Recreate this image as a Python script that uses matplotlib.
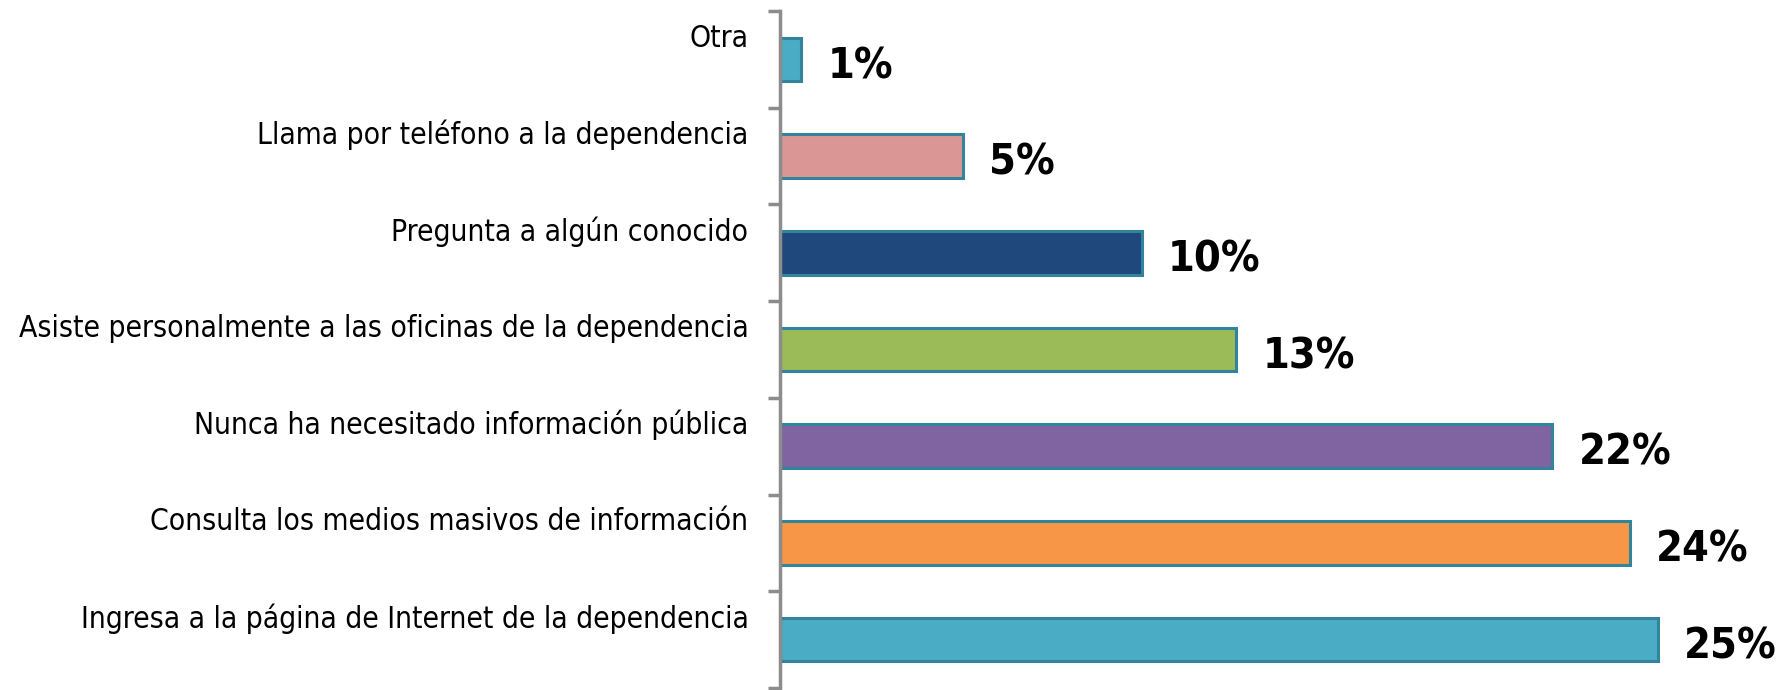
import matplotlib.pyplot as plt
import numpy as np

# categories from top to bottom, as in the chart
categorias = [
    "Otra",
    "Llama por teléfono a la dependencia",
    "Pregunta a algún conocido",
    "Asiste personalmente a las oficinas de la dependencia",
    "Nunca ha necesitado información pública",
    "Consulta los medios masivos de información",
    "Ingresa a la página de Internet de la dependencia",
]
valores = [0.6, 5.2, 10.3, 13.0, 22.0, 24.2, 25.0]
etiquetas = ["1%", "5%", "10%", "13%", "22%", "24%", "25%"]
colores = ["#4BACC6", "#D99694", "#1F497D", "#9BBB59", "#8064A2", "#F79646", "#4BACC6"]

fig = plt.figure(figsize=(17.91, 6.9), dpi=100)
ax = fig.add_axes([780 / 1791, 2 / 690, 1 - 780 / 1791, 677 / 690])

y = np.arange(len(categorias))
ax.barh(y, valores, height=0.45, color=colores, edgecolor="#31849B", linewidth=2.2)

ax.set_xlim(0, 28.8)
ax.set_ylim(len(categorias) - 0.5, -0.5)

for yi, v, lab in zip(y, valores, etiquetas):
    ax.text(v + 0.75, yi + 0.07, lab, ha="left", va="center", fontsize=31,
            fontweight="bold", family="DejaVu Sans", fontstretch="condensed",
            clip_on=False)

for yi, cat in zip(y, categorias):
    ax.text(-0.9, yi - 0.22, cat, ha="right", va="center", fontsize=21.5,
            family="DejaVu Sans", fontstretch="condensed", clip_on=False)

for s in ["top", "right", "bottom"]:
    ax.spines[s].set_visible(False)
ax.spines["left"].set_color("#8C8C8C")
ax.spines["left"].set_linewidth(2.5)

ax.set_xticks([])
ax.set_yticks(np.arange(-0.5, len(categorias), 1.0))
ax.set_yticklabels([])
ax.tick_params(axis="y", length=9, width=2.5, color="#8C8C8C")

fig.savefig("out.png", dpi=100)
